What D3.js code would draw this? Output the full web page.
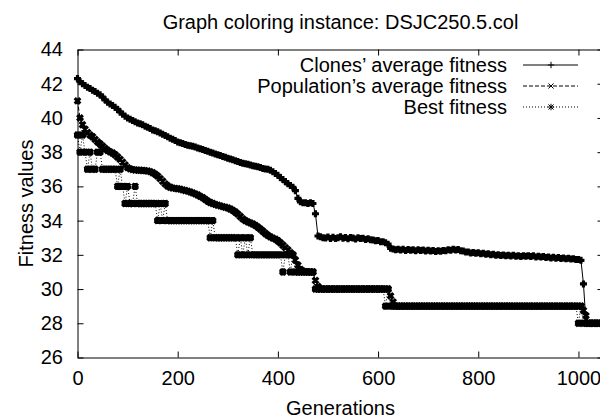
<!DOCTYPE html>
<html>
<head>
<meta charset="utf-8">
<script src="https://cdn.jsdelivr.net/npm/d3@7"></script>
<style>
  html, body { margin: 0; padding: 0; background: #fff; }
  svg { display: block; font-family: "Liberation Sans", Arial, Helvetica, sans-serif; }
</style>
</head>
<body>
<svg id="chart" width="600" height="419"></svg>
<script>
// One sample every 5 generations, from generation 0 to 1050.
const generationStep = 5;

const clonesAvg = [
  42.3, 42.12, 42.0, 41.9, 41.8, 41.72, 41.62, 41.55, 41.45, 41.35, 41.22, 41.06, 40.92, 40.82, 40.72, 40.62, 40.5, 40.35, 40.22, 40.1,
  40.0, 39.92, 39.85, 39.78, 39.7, 39.66, 39.6, 39.52, 39.45, 39.38, 39.3, 39.25, 39.2, 39.12, 39.05, 38.98, 38.9, 38.82, 38.75, 38.68,
  38.6, 38.55, 38.5, 38.45, 38.4, 38.38, 38.35, 38.3, 38.25, 38.2, 38.15, 38.1, 38.05, 38.0, 37.95, 37.9, 37.85, 37.8, 37.75, 37.7,
  37.65, 37.6, 37.55, 37.5, 37.45, 37.4, 37.35, 37.32, 37.3, 37.25, 37.2, 37.18, 37.15, 37.1, 37.05, 37.02, 37.0, 36.95, 36.85, 36.75,
  36.65, 36.52, 36.4, 36.28, 36.15, 36.05, 35.95, 35.75, 35.3, 35.1, 35.05, 35.05, 35.0, 35.05, 35.0, 34.4, 33.1, 33.05, 33.0, 32.98,
  33.04, 32.96, 33.03, 32.95, 33.0, 33.05, 32.97, 33.01, 32.94, 33.02, 32.98, 32.93, 33.0, 32.95, 32.97, 32.9, 32.94, 32.88, 32.86, 32.83,
  32.84, 32.77, 32.76, 32.7, 32.62, 32.38, 32.34, 32.29, 32.33, 32.28, 32.33, 32.26, 32.31, 32.27, 32.3, 32.24, 32.29, 32.25, 32.28, 32.23,
  32.27, 32.22, 32.26, 32.2, 32.24, 32.21, 32.26, 32.24, 32.29, 32.27, 32.32, 32.28, 32.31, 32.24, 32.23, 32.17, 32.16, 32.11, 32.14, 32.09,
  32.12, 32.06, 32.09, 32.04, 32.07, 32.0, 32.03, 31.97, 32.0, 31.96, 31.99, 31.94, 31.97, 31.93, 31.97, 31.92, 31.95, 31.9, 31.94, 31.91,
  31.95, 31.9, 31.94, 31.88, 31.92, 31.87, 31.9, 31.85, 31.87, 31.82, 31.86, 31.8, 31.84, 31.79, 31.82, 31.77, 31.8, 31.75, 31.77, 31.72,
  31.72, 31.68, 30.3, 28.1, 28.0, 28.0, 28.0, 28.0, 28.0, 28.0, 28.0
];

const populationAvg = [
  41.0, 40.0, 39.6, 39.35, 39.15, 39.0, 38.9, 38.75, 38.6, 38.48, 38.35, 38.22, 38.1, 38.02, 37.95, 37.85, 37.72, 37.58, 37.42, 37.25,
  37.1, 37.02, 36.98, 36.96, 36.95, 36.94, 36.93, 36.92, 36.9, 36.86, 36.8, 36.72, 36.6, 36.45, 36.3, 36.15, 36.02, 35.95, 35.9, 35.88,
  35.86, 35.84, 35.8, 35.76, 35.72, 35.68, 35.62, 35.56, 35.5, 35.42, 35.34, 35.24, 35.14, 35.06, 35.0, 34.95, 34.9, 34.86, 34.82, 34.78,
  34.74, 34.68, 34.6, 34.5, 34.38, 34.24, 34.1, 34.0, 33.93, 33.87, 33.8, 33.72, 33.62, 33.5, 33.38, 33.25, 33.14, 33.05, 32.98, 32.92,
  32.82, 32.7, 32.56, 32.42, 32.28, 32.12, 32.0, 31.7, 31.4, 31.15, 31.05, 31.02, 31.0, 31.0, 31.0, 30.5, 30.15, 30.0, 30.0, 30.0,
  30, 30, 30, 30, 30, 30, 30, 30, 30, 30, 30, 30, 30, 30, 30, 30, 30, 30, 30, 30,
  30, 30, 30, 30, 30, 29.6, 29.25, 29, 29, 29, 29, 29, 29, 29, 29, 29, 29, 29, 29, 29,
  29, 29, 29, 29, 29, 29, 29, 29, 29, 29, 29, 29, 29, 29, 29, 29, 29, 29, 29, 29,
  29, 29, 29, 29, 29, 29, 29, 29, 29, 29, 29, 29, 29, 29, 29, 29, 29, 29, 29, 29,
  29, 29, 29, 29, 29, 29, 29, 29, 29, 29, 29, 29, 29, 29, 29, 29, 29, 29, 29, 29,
  29.0, 29.0, 28.75, 28.45, 28, 28, 28, 28, 28, 28, 28
];

const bestFitness = [
  39, 38, 39, 38, 37, 38, 37, 37, 38, 38, 37, 37, 37, 37, 37, 37, 36, 37, 36, 35,
  36, 35, 35, 36, 35, 35, 35, 35, 35, 35, 35, 35, 34, 35, 34, 35, 34, 34, 34, 34,
  34, 34, 34, 34, 34, 34, 34, 34, 34, 34, 34, 34, 34, 33, 34, 33, 33, 33, 33, 33,
  33, 33, 33, 33, 32, 33, 32, 33, 32, 33, 32, 32, 32, 32, 32, 32, 32, 32, 32, 32,
  32, 32, 31, 32, 32, 31, 32, 31, 31, 31, 31, 31, 31, 31, 31, 30, 30, 30, 30, 30,
  30, 30, 30, 30, 30, 30, 30, 30, 30, 30, 30, 30, 30, 30, 30, 30, 30, 30, 30, 30,
  30, 30, 30, 29, 30, 29, 29, 29, 29, 29, 29, 29, 29, 29, 29, 29, 29, 29, 29, 29,
  29, 29, 29, 29, 29, 29, 29, 29, 29, 29, 29, 29, 29, 29, 29, 29, 29, 29, 29, 29,
  29, 29, 29, 29, 29, 29, 29, 29, 29, 29, 29, 29, 29, 29, 29, 29, 29, 29, 29, 29,
  29, 29, 29, 29, 29, 29, 29, 29, 29, 29, 29, 29, 29, 29, 29, 29, 29, 29, 29, 29,
  28, 29, 28, 28, 28, 28, 28, 28, 28, 28, 28
];

const seriesNames = ["Clones’ average fitness", "Population’s average fitness", "Best fitness"];
const xTicks = [0, 200, 400, 600, 800, 1000];
const yTicks = [26, 28, 30, 32, 34, 36, 38, 40, 42, 44];
const titleText = "Graph coloring instance: DSJC250.5.col";
const xLabel = "Generations";
const yLabel = "Fitness values";

const svg = d3.select("#chart");
const x = d3.scaleLinear().domain([0, 1050]).range([77.5, 603.5]);
const y = d3.scaleLinear().domain([26, 44]).range([357.5, 49.5]);
const gens = d3.range(clonesAvg.length).map(i => i * generationStep);
const fontSize = 20;

// Point glyphs: plus, cross and star, stroked
function glyph(type, cx, cy, s) {
  const plus = `M${cx - s},${cy}H${cx + s}M${cx},${cy - s}V${cy + s}`;
  const t = s * 0.8;
  const cross = `M${cx - t},${cy - t}L${cx + t},${cy + t}M${cx - t},${cy + t}L${cx + t},${cy - t}`;
  if (type === "plus") return plus;
  if (type === "cross") return cross;
  return plus + cross;
}

const styles = [
  { values: clonesAvg, dash: null, glyph: "plus" },
  { values: populationAvg, dash: "4,2", glyph: "cross" },
  { values: bestFitness, dash: "1,2", glyph: "star" }
];

// Axes with inward ticks on all four sides
function styleAxis(g) {
  g.attr("font-family", null).attr("font-size", fontSize)
   .selectAll("text").attr("fill", "#000");
  g.selectAll("line, path").attr("stroke", "#000").attr("stroke-width", 1);
}
svg.append("g").attr("transform", `translate(0,${y(26)})`)
  .call(d3.axisBottom(x).tickValues(xTicks).tickSize(-6).tickSizeOuter(0).tickPadding(13).tickFormat(d3.format("d")))
  .call(styleAxis);
svg.append("g").attr("transform", `translate(0,${y(44)})`)
  .call(d3.axisTop(x).tickValues(xTicks).tickSize(-6).tickSizeOuter(0).tickFormat(""))
  .call(styleAxis);
svg.append("g").attr("transform", `translate(${x(0)},0)`)
  .call(d3.axisLeft(y).tickValues(yTicks).tickSize(-6).tickSizeOuter(0).tickPadding(14.5))
  .call(styleAxis);
svg.append("g").attr("transform", `translate(${x(1050)},0)`)
  .call(d3.axisRight(y).tickValues(yTicks).tickSize(-6).tickSizeOuter(0).tickFormat(""))
  .call(styleAxis);

// Series: connecting line plus a glyph on every sample; the dense glyphs
// merge into solid bands
const line = d3.line().x((d, i) => x(gens[i])).y(d => y(d));
styles.forEach(st => {
  svg.append("path")
    .attr("d", line(st.values))
    .attr("fill", "none").attr("stroke", "#000").attr("stroke-width", 1)
    .attr("stroke-dasharray", st.dash);
  svg.append("path")
    .attr("d", st.values.map((v, i) => glyph(st.glyph, x(gens[i]), y(v), 3.5)).join(""))
    .attr("fill", "none").attr("stroke", "#000").attr("stroke-width", 3.2);
});

// Key
const keyRows = [65, 86, 107];
styles.forEach((st, i) => {
  const ry = keyRows[i];
  svg.append("text").attr("x", 507).attr("y", ry + 6.5)
    .attr("text-anchor", "end").attr("font-size", fontSize).text(seriesNames[i]);
  svg.append("line").attr("x1", 523).attr("x2", 578).attr("y1", ry).attr("y2", ry)
    .attr("stroke", "#000").attr("stroke-width", 1).attr("stroke-dasharray", st.dash);
  svg.append("path").attr("d", glyph(st.glyph, 551, ry, 3.2))
    .attr("fill", "none").attr("stroke", "#000").attr("stroke-width", 1);
});

// Titles
const midX = (x(0) + x(1050)) / 2;
svg.append("text").attr("x", midX).attr("y", 29).attr("text-anchor", "middle")
  .attr("font-size", fontSize).text(titleText);
svg.append("text").attr("x", midX).attr("y", 415).attr("text-anchor", "middle")
  .attr("font-size", fontSize).text(xLabel);
svg.append("text").attr("transform", `translate(33,${(y(26) + y(44)) / 2}) rotate(-90)`)
  .attr("text-anchor", "middle").attr("font-size", fontSize).text(yLabel);
</script>
</body>
</html>
